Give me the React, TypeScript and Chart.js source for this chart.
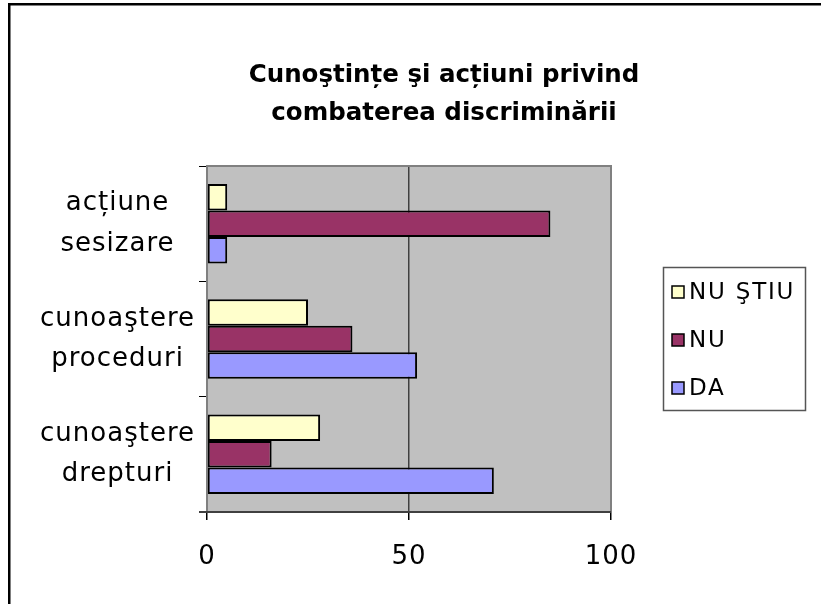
import React, { useEffect, useRef } from 'react';
import { Chart, registerables } from 'chart.js';

Chart.register(...registerables);

// ---- data ----
const categories: string[][] = [
  ['acțiune', 'sesizare'],
  ['cunoaştere', 'proceduri'],
  ['cunoaştere', 'drepturi'],
];
const seriesNames = ['NU ŞTIU', 'NU', 'DA'];
const nuStiuValues = [5, 25, 28];
const nuValues = [85, 36, 16];
const daValues = [5, 52, 71];
const xTickValues = [0, 50, 100];
const titleLines = ['Cunoştințe şi acțiuni privind', 'combaterea discriminării'];
const seriesColors = ['#FFFFCC', '#993366', '#9999FF'];

const FONT = 'DejaVu Sans';

export default function App() {
  const ref = useRef<HTMLCanvasElement | null>(null);

  useEffect(() => {
    const canvas = ref.current;
    if (!canvas) return;

    const decor = {
      id: 'decor',
      beforeUpdate(chart: any) {
        (chart.ctx as any).letterSpacing = '1px';
      },
      beforeDraw(chart: any) {
        const { ctx, chartArea: a } = chart;
        ctx.save();
        ctx.fillStyle = '#ffffff';
        ctx.fillRect(0, 0, chart.width, chart.height);
        ctx.fillStyle = '#C0C0C0';
        ctx.fillRect(a.left, a.top, a.right - a.left, a.bottom - a.top);
        ctx.restore();
        (ctx as any).letterSpacing = '1px';
      },
      afterDraw(chart: any) {
        const { ctx, chartArea: a } = chart;
        ctx.save();
        (ctx as any).letterSpacing = '0px';
        // plot border
        ctx.strokeStyle = '#808080';
        ctx.lineWidth = 2;
        ctx.beginPath();
        ctx.moveTo(a.left, a.bottom);
        ctx.lineTo(a.left, a.top);
        ctx.lineTo(a.right, a.top);
        ctx.lineTo(a.right, a.bottom);
        ctx.stroke();
        ctx.strokeStyle = '#404040';
        ctx.beginPath();
        ctx.moveTo(a.left - 8, a.bottom);
        ctx.lineTo(a.right, a.bottom);
        ctx.stroke();

        // title
        ctx.fillStyle = '#000';
        ctx.font = `bold 24.5px "${FONT}"`;
        ctx.textAlign = 'center';
        ctx.textBaseline = 'middle';
        ctx.fillText(titleLines[0], 444, 76);
        ctx.fillText(titleLines[1], 444, 114);

        // legend
        const lx = 663, ly = 267, lw = 142, lh = 143;
        ctx.fillStyle = '#ffffff';
        ctx.fillRect(lx, ly, lw, lh);
        ctx.strokeStyle = '#555555';
        ctx.lineWidth = 1.5;
        ctx.strokeRect(lx + 0.5, ly + 0.5, lw, lh);
        const rows = [292, 340, 388];
        ctx.font = `23px "${FONT}"`;
        ctx.textAlign = 'left';
        (ctx as any).letterSpacing = '1.8px';
        seriesNames.forEach((name, i) => {
          const cy = rows[i];
          ctx.fillStyle = seriesColors[i];
          ctx.fillRect(672, cy - 6, 12, 12);
          ctx.strokeStyle = '#000';
          ctx.lineWidth = 1.5;
          ctx.strokeRect(672, cy - 6, 12, 12);
          ctx.fillStyle = '#000';
          ctx.fillText(name, 689, cy + 1);
        });

        // outer frame (top + left)
        (ctx as any).letterSpacing = '0px';
        ctx.fillStyle = '#000';
        ctx.fillRect(8, 3, chart.width - 8, 2.5);
        ctx.fillRect(8, 3, 2.5, chart.height - 3);
        ctx.restore();
      },
    };

    const values = [nuStiuValues, nuValues, daValues];
    const chart = new Chart(canvas, {
      type: 'bar',
      data: {
        labels: categories,
        datasets: seriesNames.map((name, i) => ({
          label: name,
          data: values[i],
          backgroundColor: seriesColors[i],
          borderColor: '#000000',
          borderWidth: 2,
          borderSkipped: false,
          categoryPercentage: 0.69,
          barPercentage: 1.0,
        })),
      },
      options: {
        indexAxis: 'y',
        responsive: false,
        animation: false,
        events: [],
        layout: { padding: { top: 166, right: 210, bottom: 32, left: 0 } },
        plugins: {
          legend: { display: false },
          title: { display: false },
          tooltip: { enabled: false },
        },
        scales: {
          y: {
            type: 'category',
            grid: {
              display: true,
              drawOnChartArea: false,
              drawTicks: true,
              tickLength: 8,
              color: '#000',
              offset: true,
            },
            border: { display: false },
            ticks: {
              font: { family: FONT, size: 26, lineHeight: 1.55 },
              color: '#000',
              crossAlign: 'center',
              padding: 4,
            },
            afterFit: (s: any) => {
              s.width = 207;
            },
          },
          x: {
            type: 'linear',
            min: 0,
            max: 100,
            afterBuildTicks: (s: any) => {
              s.ticks = xTickValues.map((v) => ({ value: v }));
            },
            grid: {
              color: '#404040',
              lineWidth: 1.5,
              tickLength: 8,
              tickColor: '#000',
            },
            border: { display: false },
            ticks: {
              font: { family: FONT, size: 26 },
              color: '#000',
              padding: 22,
              maxRotation: 0,
            },
            afterFit: (s: any) => {
              s.height = 60;
            },
          },
        },
      },
      plugins: [decor],
    } as any);

    return () => chart.destroy();
  }, []);

  return (
    <div style={{ position: 'absolute', left: 0, top: 0, width: 821, height: 604, background: '#fff' }}>
      <canvas ref={ref} width={821} height={604} style={{ display: 'block', width: 821, height: 604 }} />
    </div>
  );
}
